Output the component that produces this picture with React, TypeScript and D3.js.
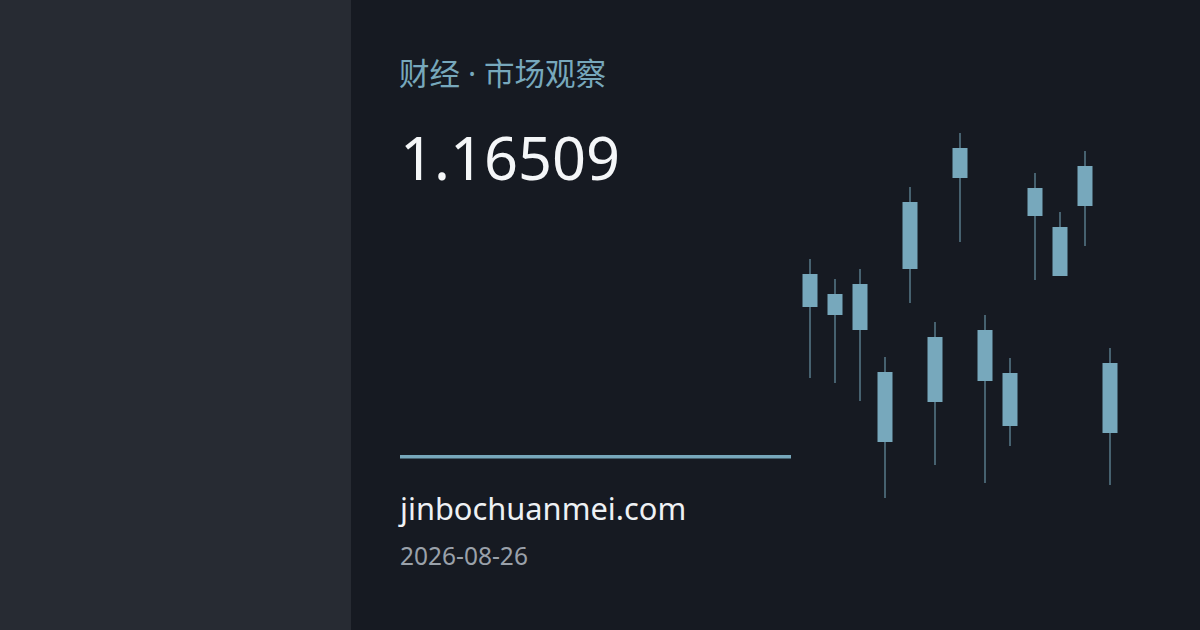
import { scaleLinear, scaleBand } from "d3";

// candle values (arbitrary price units)
const highs = [241, 221, 231, 143, 313, 178, 367, 185, 142, 327, 288, 349, 152];
const opens = [226, 206, 216, 128, 298, 163, 352, 170, 127, 312, 273, 334, 137];
const closes = [193, 185, 170, 58, 231, 98, 322, 119, 74, 284, 224, 294, 67];
const lows = [122, 117, 99, 2, 197, 35, 258, 17, 54, 220, 224, 254, 15];

const title = "财经 · 市场观察";
const price = "1.16509";
const site = "jinbochuanmei.com";
const date = "2026-08-26";

const W = 1200;
const H = 630;
const accent = "#77a8bc";

export default function App() {
    const idx = highs.map((_, i) => String(i));
    const x = scaleBand().domain(idx).range([797.5, 1122.5]).paddingInner(0.4).paddingOuter(0.2);
    const y = scaleLinear().domain([0, 370]).range([500, 130]);
    const bw = x.bandwidth();

    return (
        <svg
            width={W}
            height={H}
            style={{ position: "absolute", left: 0, top: 0 }}
            fontFamily="'Noto Sans', 'Noto Sans CJK SC', sans-serif"
        >
            <rect width={W} height={H} fill="#161a22" />
            <rect width={351} height={H} fill="#272b33" />

            <text x={399} y={85} fontSize={30.5} fill={accent}>
                {title}
            </text>
            <text x={400} y={180} fontSize={59.5} fill="#f4f6f8">{price}</text>

            <rect x={400} y={455} width={391} height={3.5} fill={accent} />

            <text x={400} y={520} fontSize={30.8} fill="#eef1f4">{site}</text>
            <text x={400} y={565} fontSize={24.5} fill="#9aa1aa">{date}</text>

            {idx.map((k, i) => {
                const cx = (x(k) ?? 0) + bw / 2;
                const top = Math.min(y(opens[i]), y(closes[i]));
                const bot = Math.max(y(opens[i]), y(closes[i]));
                return (
                    <g key={`c-${k}`}>
                        <line x1={cx} x2={cx} y1={y(highs[i])} y2={y(lows[i])} stroke={accent} strokeWidth={1} />
                        <rect x={cx - bw / 2} y={top} width={bw} height={bot - top} fill={accent} />
                    </g>
                );
            })}
        </svg>
    );
}
